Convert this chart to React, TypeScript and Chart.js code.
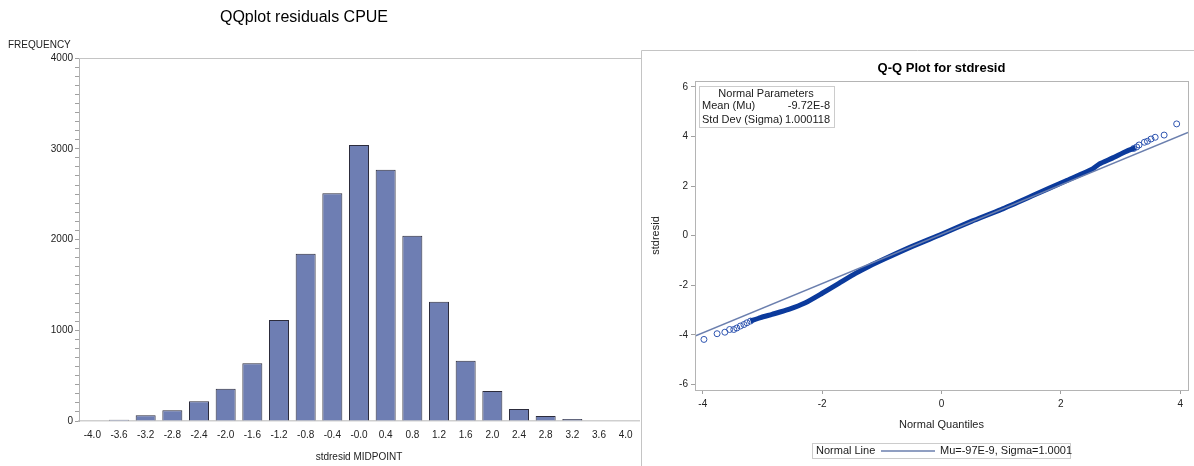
import React, { useEffect, useRef } from "react";
import { Chart, registerables } from "chart.js";

Chart.register(...registerables);

const FONT = "'Liberation Sans', Arial, sans-serif";

// ---------- Histogram data ----------
const midpoints = [
  "-4.0", "-3.6", "-3.2", "-2.8", "-2.4", "-2.0", "-1.6", "-1.2", "-0.8", "-0.4", "-0.0",
  "0.4", "0.8", "1.2", "1.6", "2.0", "2.4", "2.8", "3.2", "3.6", "4.0",
];
const frequencies = [
  0, 15, 63, 118, 217, 356, 636, 1113, 1843, 2509, 3041,
  2769, 2042, 1315, 664, 330, 132, 55, 22, 0, 0,
];
const freqMajorTicks = [0, 1000, 2000, 3000, 4000];
const freqMinorStep = 100;

// ---------- Q-Q plot data ----------
const bandQuantiles = [
  -3.2, -3.03, -2.84, -2.56, -2.28, -2.0, -1.72, -1.44, -1.22, -0.94, -0.5, 0.0,
  0.5, 1.0, 1.52, 2.08, 2.53, 2.64, 2.87, 3.09, 3.25,
];
const bandResiduals = [
  -3.44, -3.3, -3.17, -2.97, -2.7, -2.32, -1.92, -1.52, -1.24, -0.92, -0.44, 0.06,
  0.58, 1.06, 1.61, 2.21, 2.69, 2.89, 3.14, 3.4, 3.55,
];
const tailQuantiles = [
  -3.98, -3.76, -3.63, -3.55, -3.48, -3.43, -3.37, -3.31, -3.26, -3.2,
  3.22, 3.27, 3.31, 3.4, 3.45, 3.51, 3.58, 3.73, 3.94,
];
const tailResiduals = [
  -4.18, -3.95, -3.89, -3.78, -3.78, -3.72, -3.64, -3.58, -3.51, -3.44,
  3.52, 3.58, 3.66, 3.77, 3.81, 3.9, 3.97, 4.06, 4.51,
];
const refLineQuantiles = [-4.13, 4.13];
const refLineResiduals = [-4.04, 4.17];
const qqYTicks = [-6, -4, -2, 0, 2, 4, 6];
const qqXTicks = [-4, -2, 0, 2, 4];

const paramLabels = ["Mean (Mu)", "Std Dev (Sigma)"];
const paramValues = ["-9.72E-8", "1.000118"];

function drawText(
  ctx: CanvasRenderingContext2D,
  s: string,
  x: number,
  y: number,
  size: number,
  align: CanvasTextAlign = "center",
  weight = "normal",
  color = "#1a1a1a"
) {
  ctx.font = `${weight} ${size}px ${FONT}`;
  ctx.fillStyle = color;
  ctx.textAlign = align;
  ctx.textBaseline = "middle";
  ctx.fillText(s, x, y);
}

const histDecor = {
  id: "histDecor",
  afterDraw(chart: any) {
    const { ctx, chartArea: a } = chart;
    ctx.save();
    ctx.strokeStyle = "#c4c4c4";
    ctx.lineWidth = 1;
    ctx.beginPath();
    ctx.moveTo(a.left, a.top + 0.5);
    ctx.lineTo(chart.width, a.top + 0.5);
    ctx.stroke();
    drawText(ctx, "QQplot residuals CPUE", 304, 18, 16, "center", "normal", "#000");
    drawText(ctx, "FREQUENCY", 8, 45, 10, "left", "normal", "#222");
    drawText(ctx, "stdresid MIDPOINT", (a.left + a.right) / 2, 457, 10, "center", "normal", "#222");
    ctx.restore();
  },
};

const qqDecor = {
  id: "qqDecor",
  afterDraw(chart: any) {
    const { ctx, chartArea: a } = chart;
    ctx.save();
    // panel border
    ctx.strokeStyle = "#c4c4c4";
    ctx.lineWidth = 1;
    ctx.beginPath();
    ctx.moveTo(0.5, chart.height);
    ctx.lineTo(0.5, 0.5);
    ctx.lineTo(chart.width, 0.5);
    ctx.stroke();
    // plot frame
    ctx.strokeStyle = "#b4b4b4";
    ctx.strokeRect(a.left + 0.5, a.top + 0.5, a.right - a.left, a.bottom - a.top);
    // title
    drawText(ctx, "Q-Q Plot for stdresid", (a.left + a.right) / 2, 18, 13, "center", "bold", "#000");
    // axis titles
    drawText(ctx, "Normal Quantiles", (a.left + a.right) / 2, 375, 11, "center", "normal", "#222");
    ctx.save();
    ctx.translate(15, (a.top + a.bottom) / 2);
    ctx.rotate(-Math.PI / 2);
    drawText(ctx, "stdresid", 0, 0, 11, "center", "normal", "#222");
    ctx.restore();
    // inset box
    ctx.fillStyle = "#fff";
    ctx.fillRect(58, 36, 135, 41);
    ctx.strokeStyle = "#cccccc";
    ctx.strokeRect(58.5, 36.5, 135, 41);
    drawText(ctx, "Normal Parameters", 125, 43.5, 11, "center");
    drawText(ctx, paramLabels[0], 61, 56, 11, "left");
    drawText(ctx, paramValues[0], 189, 56, 11, "right");
    drawText(ctx, paramLabels[1], 61, 69.5, 11, "left");
    drawText(ctx, paramValues[1], 189, 69.5, 11, "right");
    // bottom legend
    ctx.strokeStyle = "#cccccc";
    ctx.strokeRect(171.5, 393.5, 258, 15);
    drawText(ctx, "Normal Line", 175, 401, 11, "left");
    ctx.strokeStyle = "#6b7fae";
    ctx.lineWidth = 1.5;
    ctx.beginPath();
    ctx.moveTo(240, 401);
    ctx.lineTo(294, 401);
    ctx.stroke();
    drawText(ctx, "Mu=-97E-9, Sigma=1.0001", 299, 401, 11, "left");
    ctx.restore();
  },
};

export default function App() {
  const leftRef = useRef<HTMLCanvasElement>(null);
  const rightRef = useRef<HTMLCanvasElement>(null);

  useEffect(() => {
    const tickFont = { family: FONT, size: 10 };
    const left = new Chart(leftRef.current!, {
      type: "bar",
      data: {
        labels: midpoints,
        datasets: [
          {
            data: frequencies,
            backgroundColor: "#6e7eb3",
            borderColor: "#2c2c3c",
            borderWidth: 1,
            categoryPercentage: 1,
            barPercentage: 0.75,
          },
        ],
      },
      options: {
        responsive: false,
        animation: false,
        layout: { padding: { left: 0, top: 58, right: 2, bottom: 0 } },
        plugins: { legend: { display: false }, tooltip: { enabled: false } },
        scales: {
          x: {
            afterFit: (s: any) => {
              s.height = 45;
            },
            ticks: { font: tickFont, color: "#222", padding: 8, autoSkip: false, maxRotation: 0 },
            grid: { display: false, drawTicks: false },
            border: { display: true, color: "#cfcfcf", width: 1.5 },
          },
          y: {
            min: 0,
            max: 4000,
            afterFit: (s: any) => {
              s.width = 79;
            },
            afterBuildTicks: (s: any) => {
              const t = [];
              for (let v = 0; v <= 4000; v += freqMinorStep) t.push({ value: v });
              s.ticks = t;
            },
            ticks: {
              font: tickFont,
              color: "#222",
              padding: 2,
              autoSkip: false,
              callback: (v: any) => (freqMajorTicks.includes(Number(v)) ? String(v) : ""),
            },
            grid: { drawOnChartArea: false, drawTicks: true, tickLength: 4, color: "#a0a0a0" },
            border: { display: true, color: "#b5b5b5" },
          },
        },
      },
      plugins: [histDecor],
    });

    const right = new Chart(rightRef.current!, {
      type: "scatter",
      data: {
        datasets: [
          {
            data: refLineQuantiles.map((q, i) => ({ x: q, y: refLineResiduals[i] })),
            showLine: true,
            borderColor: "#6b7fae",
            borderWidth: 1.5,
            pointRadius: 0,
          },
          {
            data: bandQuantiles.map((q, i) => ({ x: q, y: bandResiduals[i] })),
            showLine: true,
            borderColor: "#0b3a9c",
            borderWidth: 5,
            tension: 0.2,
            pointRadius: 0,
          },
          {
            data: tailQuantiles.map((q, i) => ({ x: q, y: tailResiduals[i] })),
            showLine: false,
            pointStyle: "circle",
            pointRadius: 3,
            borderColor: "#2f55b0",
            backgroundColor: "rgba(0,0,0,0)",
            borderWidth: 1,
          },
        ],
      },
      options: {
        responsive: false,
        animation: false,
        layout: { padding: { left: 0, top: 31, right: 6, bottom: 0 } },
        plugins: { legend: { display: false }, tooltip: { enabled: false } },
        scales: {
          x: {
            type: "linear",
            min: -4.13,
            max: 4.13,
            afterFit: (s: any) => {
              s.height = 76;
            },
            afterBuildTicks: (s: any) => {
              s.ticks = qqXTicks.map((v) => ({ value: v }));
            },
            ticks: { font: tickFont, color: "#222", padding: 4 },
            grid: { drawOnChartArea: false, drawTicks: true, tickLength: 4, color: "#a0a0a0" },
            border: { display: true, color: "#b4b4b4" },
          },
          y: {
            type: "linear",
            min: -6.22,
            max: 6.24,
            afterFit: (s: any) => {
              s.width = 54;
            },
            afterBuildTicks: (s: any) => {
              s.ticks = qqYTicks.map((v) => ({ value: v }));
            },
            ticks: { font: tickFont, color: "#222", padding: 3 },
            grid: { drawOnChartArea: false, drawTicks: true, tickLength: 4, color: "#a0a0a0" },
            border: { display: true, color: "#b4b4b4" },
          },
        },
      },
      plugins: [qqDecor],
    });

    return () => {
      left.destroy();
      right.destroy();
    };
  }, []);

  return (
    <div
      style={{
        position: "absolute",
        left: 0,
        top: 0,
        width: 1194,
        height: 466,
        background: "#fff",
        overflow: "hidden",
      }}
    >
      <canvas
        ref={leftRef}
        width={641}
        height={466}
        style={{ position: "absolute", left: 0, top: 0, width: 641, height: 466 }}
      />
      <canvas
        ref={rightRef}
        width={553}
        height={416}
        style={{ position: "absolute", left: 641, top: 50, width: 553, height: 416 }}
      />
    </div>
  );
}
